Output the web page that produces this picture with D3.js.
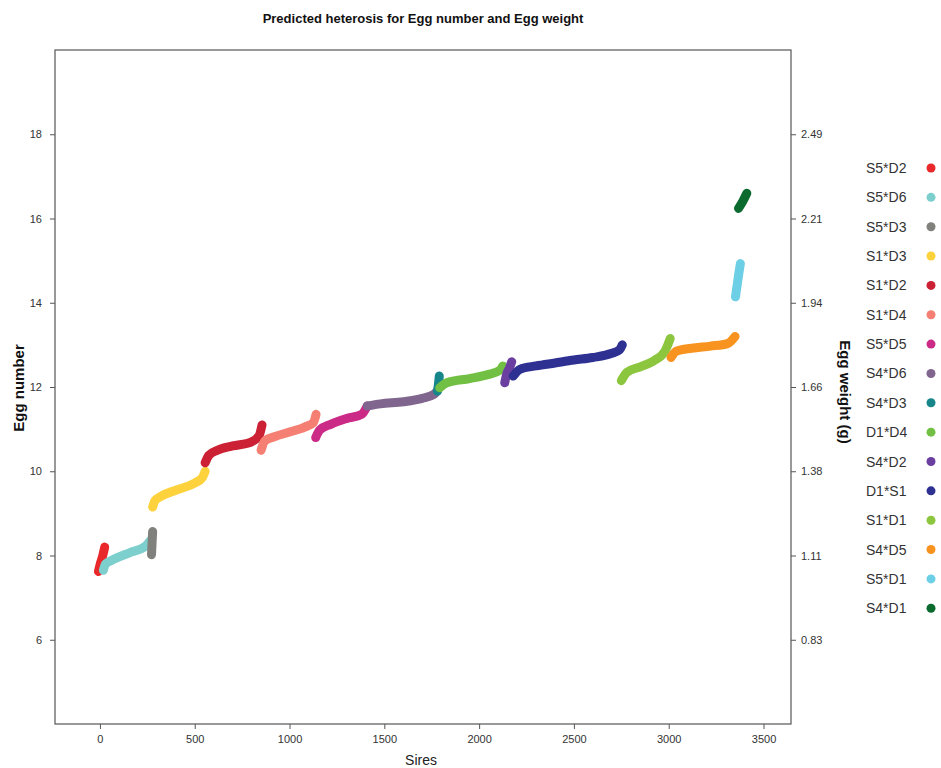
<!DOCTYPE html>
<html>
<head>
<meta charset="utf-8">
<script src="https://cdn.jsdelivr.net/npm/d3@7"></script>
<style>
  body { margin: 0; background: #fff; }
  svg { font-family: "Liberation Sans", Arial, sans-serif; }
</style>
</head>
<body>
<svg id="svg" width="941" height="768"></svg>
<script>
// [sires, egg number], one array per cross
const s5d2 = [[-8, 7.62], [5, 7.85], [15, 8.0], [25, 8.2]]
const s5d6 = [[18, 7.65], [30, 7.8], [60, 7.88], [158, 8.07], [240, 8.22], [265, 8.35]]
const s5d3 = [[272, 8.02], [275, 8.3], [278, 8.57]]
const s1d3 = [[278, 9.15], [290, 9.3], [320, 9.4], [400, 9.55], [500, 9.72], [540, 9.85], [555, 10.0]]
const s1d2 = [[555, 10.2], [575, 10.38], [620, 10.5], [700, 10.6], [800, 10.7], [840, 10.85], [855, 11.1]]
const s1d4 = [[850, 10.5], [870, 10.72], [920, 10.82], [1000, 10.93], [1080, 11.05], [1125, 11.15], [1140, 11.35]]
const s5d5 = [[1138, 10.8], [1160, 10.98], [1220, 11.12], [1300, 11.25], [1380, 11.35], [1410, 11.55]]
const s4d6 = [[1410, 11.55], [1480, 11.6], [1600, 11.65], [1700, 11.73], [1760, 11.82], [1778, 11.9]]
const s4d3 = [[1780, 11.9], [1785, 12.05], [1790, 12.26]]
const d1d4 = [[1792, 11.98], [1830, 12.1], [1950, 12.2], [2050, 12.3], [2110, 12.4], [2125, 12.5]]
const s4d2 = [[2135, 12.1], [2145, 12.3], [2160, 12.45], [2172, 12.6]]
const d1s1 = [[2180, 12.26], [2215, 12.42], [2300, 12.5], [2400, 12.57], [2500, 12.64], [2600, 12.7], [2700, 12.8], [2740, 12.88], [2755, 13.0]]
const s1d1 = [[2750, 12.15], [2780, 12.35], [2850, 12.48], [2920, 12.62], [2980, 12.85], [3008, 13.15]]
const s4d5 = [[3012, 12.7], [3040, 12.85], [3120, 12.92], [3220, 12.97], [3310, 13.03], [3350, 13.2]]
const s5d1 = [[3352, 14.14], [3362, 14.45], [3370, 14.7], [3378, 14.93]]
const s4d1 = [[3368, 16.24], [3392, 16.42], [3412, 16.6]]

const crosses = ['S5*D2', 'S5*D6', 'S5*D3', 'S1*D3', 'S1*D2', 'S1*D4', 'S5*D5', 'S4*D6',
  'S4*D3', 'D1*D4', 'S4*D2', 'D1*S1', 'S1*D1', 'S4*D5', 'S5*D1', 'S4*D1']
const series = [s5d2, s5d6, s5d3, s1d3, s1d2, s1d4, s5d5, s4d6, s4d3, d1d4, s4d2, d1s1, s1d1, s4d5, s5d1, s4d1]
const colors = ['#e8282a', '#7ccfcd', '#80807c', '#fdd23c', '#cc2035', '#f47f72', '#cc2a87', '#80668e',
  '#17868a', '#72c043', '#6b3fa0', '#2e3192', '#8cc63f', '#f7931e', '#6ccfe6', '#0b6b2f']

const xTicks = [0, 500, 1000, 1500, 2000, 2500, 3000, 3500]
const yTicks = [6, 8, 10, 12, 14, 16, 18]
const weightTicks = ['0.83', '1.11', '1.38', '1.66', '1.94', '2.21', '2.49']

const plotLeft = 55
const plotRight = 791
const plotTop = 50
const plotBottom = 724

const svg = d3.select('#svg')

const xScale = d3.scaleLinear().domain([-237, 3645]).range([plotLeft, plotRight])
const yScale = d3.scaleLinear().domain([4, 20]).range([plotBottom, plotTop])

svg.append('text')
  .attr('x', (plotLeft + plotRight) / 2)
  .attr('y', 23)
  .attr('text-anchor', 'middle')
  .attr('font-size', 13)
  .attr('font-weight', 'bold')
  .attr('fill', '#111')
  .text('Predicted heterosis for Egg number and Egg weight')

const lineGen = d3.line()
  .x(d => xScale(d[0]))
  .y(d => yScale(d[1]))
  .curve(d3.curveMonotoneX)

const graph = svg.append('g')
series.forEach((pts, i) => {
  graph.append('path')
    .attr('d', lineGen(pts))
    .attr('fill', 'none')
    .attr('stroke', colors[i])
    .attr('stroke-width', 9)
    .attr('stroke-linecap', 'round')
    .attr('stroke-linejoin', 'round')
})

svg.append('rect')
  .attr('x', plotLeft).attr('y', plotTop)
  .attr('width', plotRight - plotLeft).attr('height', plotBottom - plotTop)
  .attr('fill', 'none')
  .attr('stroke', '#555')
  .attr('stroke-width', 1.2)

const styleAxis = (g) => {
  g.select('.domain').remove()
  g.selectAll('.tick line').attr('stroke', '#555')
  g.selectAll('.tick text').attr('fill', '#333').attr('font-size', 11)
}

svg.append('g')
  .attr('transform', `translate(0, ${plotBottom})`)
  .call(d3.axisBottom(xScale).tickValues(xTicks).tickSize(5).tickPadding(6).tickFormat(d3.format('d')))
  .call(styleAxis)

svg.append('g')
  .attr('transform', `translate(${plotLeft}, 0)`)
  .call(d3.axisLeft(yScale).tickValues(yTicks).tickSize(5).tickPadding(8))
  .call(styleAxis)

svg.append('g')
  .attr('transform', `translate(${plotRight}, 0)`)
  .call(d3.axisRight(yScale).tickValues(yTicks).tickSize(5).tickPadding(5)
    .tickFormat((d, i) => weightTicks[i]))
  .call(styleAxis)

svg.append('text')
  .attr('x', (plotLeft + plotRight) / 2 - 2)
  .attr('y', 765)
  .attr('text-anchor', 'middle')
  .attr('font-size', 14)
  .attr('fill', '#222')
  .text('Sires')

svg.append('text')
  .attr('transform', `translate(24, ${(plotTop + plotBottom) / 2 + 1}) rotate(-90)`)
  .attr('text-anchor', 'middle')
  .attr('font-size', 15)
  .attr('font-weight', 'bold')
  .attr('fill', '#111')
  .text('Egg number')

svg.append('text')
  .attr('transform', `translate(840, ${(plotTop + plotBottom) / 2 + 5}) rotate(90)`)
  .attr('text-anchor', 'middle')
  .attr('font-size', 15)
  .attr('font-weight', 'bold')
  .attr('fill', '#111')
  .text('Egg weight (g)')

const legend = svg.append('g')
crosses.forEach((name, i) => {
  const y = 168 + i * 29.35
  legend.append('text')
    .attr('x', 866).attr('y', y + 5)
    .attr('font-size', 14)
    .attr('fill', '#333')
    .text(name)
  legend.append('circle')
    .attr('cx', 931).attr('cy', y)
    .attr('r', 4.5)
    .attr('fill', colors[i])
})
</script>
</body>
</html>
